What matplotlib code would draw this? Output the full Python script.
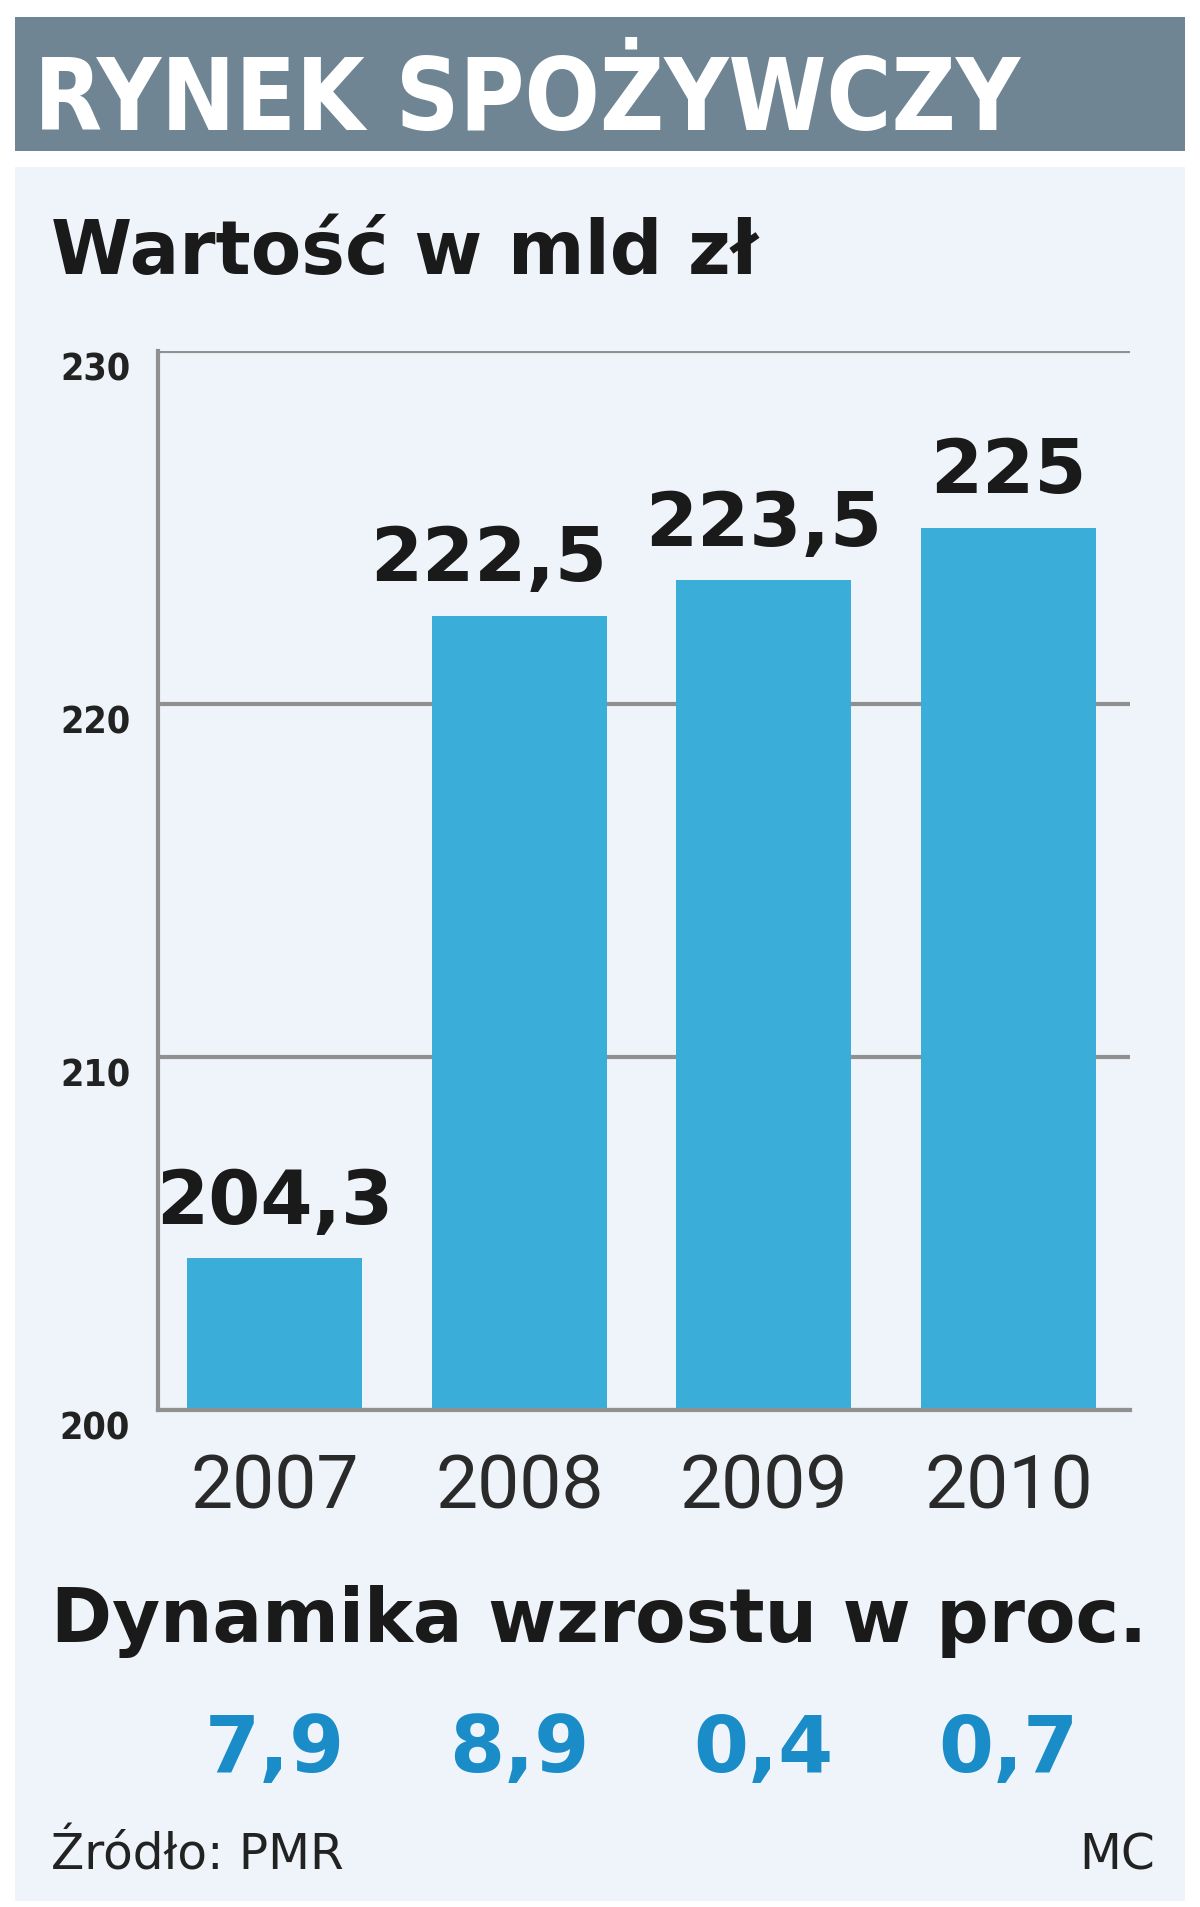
import matplotlib
matplotlib.use("Agg")
import matplotlib.pyplot as plt
from matplotlib import font_manager
from matplotlib.font_manager import FontProperties
from matplotlib.patches import Rectangle
from matplotlib.transforms import blended_transform_factory

years = ["2007", "2008", "2009", "2010"]
values = [204.3, 222.5, 223.5, 225.0]
value_labels = ["204,3", "222,5", "223,5", "225"]
growth_labels = ["7,9", "8,9", "0,4", "0,7"]
y_ticks = [200, 210, 220, 230]

title = "RYNEK SPOŻYWCZY"
subtitle = "Wartość w mld zł"
growth_title = "Dynamika wzrostu w proc."
source = "Źródło: PMR"
author = "MC"

W, H = 1200, 1908
bold_font = ["DejaVu Sans"]
light_font = ["Roboto", "DejaVu Sans"]

# is there a condensed DejaVu on this machine?
cond_file = font_manager.findfont(FontProperties(family="DejaVu Sans", weight="bold", stretch="condensed"))
has_condensed = "Condensed" in cond_file

fig = plt.figure(figsize=(W / 100, H / 100), dpi=100)
fig.patch.set_facecolor("white")


def fx(px):
    return px / W


def fy(py):
    return 1 - py / H


# header band and light panel
fig.add_artist(Rectangle((fx(15), fy(152)), fx(1170), 134 / H, transform=fig.transFigure,
                         facecolor="#6f8593", edgecolor="none", zorder=-10))
fig.add_artist(Rectangle((fx(15), fy(1902)), fx(1170), (1902 - 168) / H, transform=fig.transFigure,
                         facecolor="#eef4f9", edgecolor="none", zorder=-10))

if has_condensed:
    fig.text(fx(34), fy(130), title, family="DejaVu Sans", fontstretch="condensed", fontweight="bold",
             fontsize=71, color="white", va="baseline")
else:
    fig.text(fx(34), fy(130), title, family=["Liberation Sans", "DejaVu Sans"], fontweight="bold",
             fontsize=68, color="white", va="baseline")

fig.text(fx(51), fy(274), subtitle, family=bold_font, fontweight="bold",
         fontsize=53, color="#1a1a1a", va="baseline")

ax = fig.add_axes([fx(158), fy(1411), fx(1130 - 158), (1411 - 352) / H])
ax.set_facecolor("none")
x = list(range(len(years)))
ax.bar(x, values, width=0.715, color="#3aaed8", zorder=2)
ax.set_xlim(-0.4775, 3.4975)
ax.set_ylim(200, 230)
ax.set_yticks(y_ticks)
ax.set_yticklabels([str(t) for t in y_ticks])
ax.set_xticks(x)
ax.set_xticklabels(years)
ax.grid(axis="y", color="#909090", linewidth=3, zorder=1)
ax.set_axisbelow(True)
for side in ["top", "right"]:
    ax.spines[side].set_visible(False)
for side in ["left", "bottom"]:
    ax.spines[side].set_color("#909090")
    ax.spines[side].set_linewidth(3)
ax.tick_params(axis="both", length=0)
ax.tick_params(axis="x", pad=30, labelsize=54, labelcolor="#2a2a2a")
ax.tick_params(axis="y", pad=20, labelsize=27, labelcolor="#222222")
for lab in ax.get_xticklabels():
    lab.set_family(light_font)
    lab.set_fontweight("normal")
for lab in ax.get_yticklabels():
    lab.set_family("DejaVu Sans")
    lab.set_fontweight("semibold")
    lab.set_verticalalignment("top")
    if has_condensed:
        lab.set_fontstretch("condensed")

# the 2008 label sits a little to the left so it clears the 2009 one
label_shift = [0, -22, 0, 0]
for xi, v, lab, dx in zip(x, values, value_labels, label_shift):
    ax.annotate(lab, (xi, v), xytext=(dx, 14), textcoords="offset points", ha="center",
                va="bottom", family=bold_font, fontweight="bold", fontsize=54, color="#1a1a1a")

fig.text(fx(51), fy(1642), growth_title, family=bold_font, fontweight="bold",
         fontsize=53, color="#1a1a1a", va="baseline")

trans = blended_transform_factory(ax.transData, fig.transFigure)
for xi, lab in zip(x, growth_labels):
    ax.text(xi, fy(1772), lab, transform=trans, ha="center", va="baseline",
            family=bold_font, fontweight="bold", fontsize=57, color="#1a8cc8")

fig.text(fx(51), fy(1870), source, family="DejaVu Sans",
         fontsize=35, color="#222222", va="baseline")
fig.text(fx(1155), fy(1870), author, family="DejaVu Sans",
         fontsize=35, color="#222222", va="baseline", ha="right")

fig.savefig("out.png", dpi=100, facecolor="white")
